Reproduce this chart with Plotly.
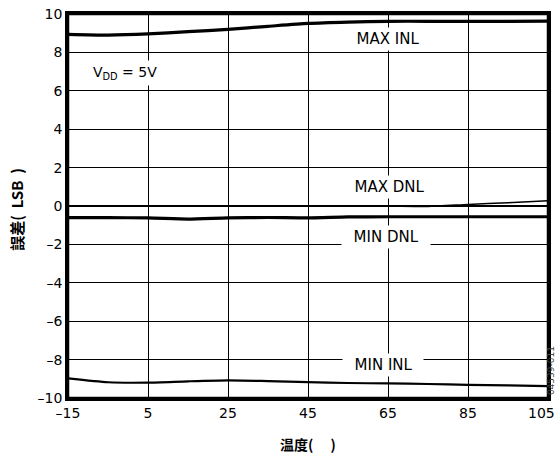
import plotly.graph_objects as go

temps = [-15, -5, 5, 15, 25, 35, 45, 55, 65, 75, 85, 95, 105]
max_inl = [8.94, 8.90, 8.96, 9.08, 9.20, 9.36, 9.51, 9.58, 9.62, 9.62, 9.62, 9.62, 9.63]
max_dnl = [0.0, 0.0, 0.0, 0.0, 0.0, 0.0, 0.0, 0.0, 0.0, -0.02, 0.08, 0.17, 0.27]
min_dnl = [-0.61, -0.61, -0.62, -0.68, -0.62, -0.60, -0.62, -0.57, -0.56, -0.56, -0.56, -0.56, -0.56]
min_inl = [-8.98, -9.18, -9.20, -9.13, -9.08, -9.12, -9.17, -9.22, -9.24, -9.27, -9.32, -9.34, -9.38]

x_ticks = [-15, 5, 25, 45, 65, 85, 105]
x_ticktext = ["–15", "5", "25", "45", "65", "85", "105\u00a0\u00a0\u00a0"]
y_ticks = [10, 8, 6, 4, 2, 0, -2, -4, -6, -8, -10]
y_ticktext = ["10", "8", "6", "4", "2", "0", "–2", "–4", "–6", "–8", "–10"]

series = [
    ("MAX INL", max_inl, 3.2),
    ("MAX DNL", max_dnl, 1.5),
    ("MIN DNL", min_dnl, 3.2),
    ("MIN INL", min_inl, 2.2),
]

font_family = "DejaVu Sans, Noto Sans, sans-serif"
cjk_font = "Noto Sans CJK SC, DejaVu Sans, sans-serif"
NB = "\u00a0"

fig = go.Figure()
for name, vals, w in series:
    fig.add_trace(go.Scatter(
        x=temps, y=vals, mode="lines", name=name,
        line=dict(color="black", width=w, shape="spline", smoothing=0.6),
        showlegend=False, hoverinfo="skip",
    ))

label_font = dict(family=font_family, size=15, color="black")
labels = [
    ("  MAX INL  ", 64.8, 8.7),
    ("  MAX DNL  ", 65.2, 1.0),
    ("  MIN DNL  ", 64.5, -1.6),
    ("  MIN INL  ", 63.8, -8.28),
]
for text, xv, yv in labels:
    fig.add_annotation(x=xv, y=yv, text=text.replace(" ", NB), showarrow=False,
                       font=label_font, bgcolor="white", borderpad=2,
                       xref="x", yref="y")

fig.add_annotation(x=-9.8, y=6.93, xanchor="left", text="V<sub>DD</sub> = 5V",
                   showarrow=False, font=dict(family=font_family, size=14, color="black"),
                   bgcolor="white", borderpad=3)

# rotated figure code at right edge (partly clipped in the reference)
fig.add_annotation(x=1.0, xref="paper", xshift=10, y=-8.6, yref="y",
                   text="04539-011", textangle=-90, showarrow=False,
                   font=dict(family=font_family, size=9, color="#444"))

# axis titles
fig.add_annotation(x=0.5, xref="paper", y=0, yref="paper", yshift=-46, yanchor="middle",
                   text="<b>温度(　 )</b>", showarrow=False,
                   font=dict(family=cjk_font, size=14, color="black"))
fig.add_annotation(x=0, xref="paper", xshift=-51, y=0.49, yref="paper", xanchor="center",
                   text="<b>誤差(" + NB + NB + "LSB" + NB + NB + ")</b>", textangle=-90,
                   showarrow=False, font=dict(family=cjk_font, size=15, color="black"))

# plot frame
fig.add_shape(type="rect", xref="paper", yref="paper", x0=0, x1=1, y0=0, y1=1,
              line=dict(color="black", width=2.5), fillcolor="rgba(0,0,0,0)", layer="above")

fig.update_layout(
    width=560, height=459,
    margin=dict(l=68, r=12, t=14, b=61, autoexpand=False),
    paper_bgcolor="white", plot_bgcolor="white",
    hovermode=False,
    font=dict(family=font_family, size=14, color="black"),
    xaxis=dict(
        range=[-15, 105], tickvals=x_ticks, ticktext=x_ticktext,
        showgrid=True, gridcolor="black", gridwidth=1.3,
        showline=True, linecolor="black", linewidth=2.5, mirror=True,
        zeroline=False, ticks="", automargin=False, ticklabeloverflow="allow",
    ),
    yaxis=dict(
        range=[-10, 10], tickvals=y_ticks, ticktext=y_ticktext,
        showgrid=True, gridcolor="black", gridwidth=1.3,
        showline=True, linecolor="black", linewidth=2.5, mirror=True,
        zeroline=True, zerolinecolor="black", zerolinewidth=1.6, ticks="",
        automargin=False, ticklabeloverflow="allow",
    ),
)

# remove the default page margin so the 560x459 figure fills the window exactly
fig.write_html(
    "out.html",
    config={"displayModeBar": False},
    post_script="document.body.style.margin='0';document.documentElement.style.overflow='hidden';",
)
